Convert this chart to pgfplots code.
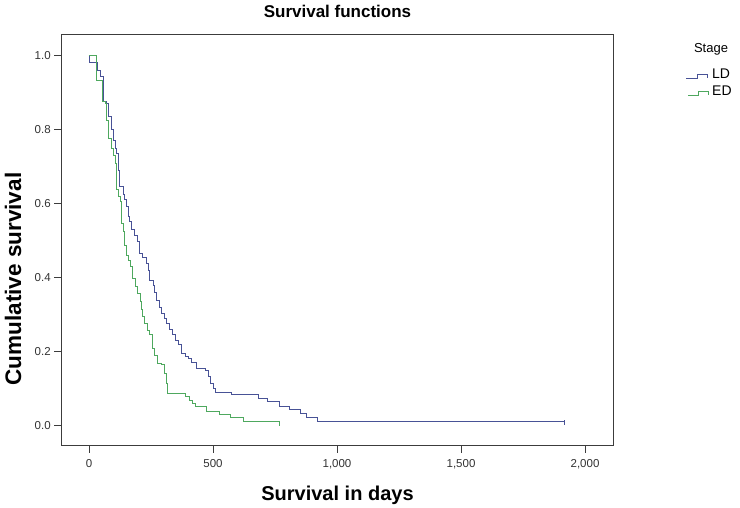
\documentclass[border=0pt]{standalone}
\usepackage{pgfplots}
\pgfplotsset{compat=1.18}
\usepackage{fontspec}
\setmainfont{Liberation Sans}
\definecolor{ldcol}{RGB}{72,82,150}
\definecolor{edcol}{RGB}{78,168,94}
\definecolor{axcol}{RGB}{60,60,60}
\begin{document}
\begin{tikzpicture}[x=1pt,y=1pt]
\path (0,0) rectangle (740,508);
\begin{axis}[
  at={(61.7pt,62.5pt)}, anchor=south west,
  scale only axis, width=551.6pt, height=411.2pt,
  xmin=-110, xmax=2114, ymin=-0.054, ymax=1.058,
  xtick={0,500,1000,1500,2000},
  ytick={0,0.2,0.4,0.6,0.8,1.0},
  tick pos=left, tick align=outside,
  major tick length=7.5pt,
  axis line style={axcol, line width=1pt},
  every tick/.style={axcol, line width=0.8pt},
  tick label style={font=\fontsize{11.5}{13}\selectfont, text=black!80},
  /pgf/number format/assume math mode=true,
  xticklabel style={/pgf/number format/1000 sep={,}, yshift=-3pt},
  yticklabel style={/pgf/number format/.cd, fixed, fixed zerofill, precision=1},
  clip=false,
]
\addplot[const plot, ldcol, line width=1pt] coordinates {
(0,1.0) (2,0.981) (34,0.961) (47,0.943) (58,0.93) (60,0.876) (71,0.871)
(78,0.835) (91,0.80) (98,0.772) (105,0.75) (112,0.736) (118,0.691)
(125,0.646) (140,0.625) (145,0.61) (152,0.592) (158,0.565) (165,0.553)
(172,0.529) (185,0.515) (195,0.497) (203,0.466) (215,0.455) (230,0.439)
(240,0.42) (246,0.393) (259,0.38) (266,0.36) (273,0.339) (283,0.32)
(293,0.303) (305,0.29) (313,0.276) (325,0.26) (337,0.245) (348,0.23)
(360,0.218) (374,0.195) (390,0.188) (400,0.182) (415,0.17) (434,0.155)
(470,0.15) (481,0.132) (488,0.114) (501,0.100) (512,0.089) (575,0.085)
(683,0.0735) (719,0.064) (770,0.051) (808,0.042) (851,0.033) (878,0.022)
(922,0.012) (1916,0.012)
};
\addplot[const plot, edcol, line width=1pt] coordinates {
(0,1.0) (31,0.934) (55,0.876) (65,0.871) (71,0.826) (80,0.775) (91,0.750)
(100,0.73) (105,0.709) (112,0.637) (120,0.62) (128,0.605) (132,0.547)
(138,0.525) (142,0.506) (145,0.488) (152,0.461) (160,0.445) (168,0.429)
(176,0.398) (186,0.375) (195,0.357) (206,0.335) (210,0.315) (216,0.294)
(225,0.275) (235,0.258) (246,0.245) (257,0.209) (265,0.19) (275,0.168)
(293,0.164) (306,0.141) (312,0.115) (316,0.087) (391,0.078) (407,0.069)
(418,0.060) (431,0.051) (472,0.037) (528,0.031) (571,0.022) (622,0.010)
(767,0.010)
};
\addplot[only marks, mark=|, mark size=2.5pt, ldcol, mark options={line width=0.8pt}] coordinates {(1916,0.008)};
\addplot[only marks, mark=|, mark size=2.5pt, edcol, mark options={line width=0.8pt}] coordinates {(767,0.006)};
\end{axis}
\node[font=\bfseries\fontsize{17}{20}\selectfont] at (337.5,497) {Survival functions};
\node[font=\bfseries\fontsize{22.5}{26}\selectfont, rotate=90] at (13,229) {Cumulative survival};
\node[font=\bfseries\fontsize{20}{24}\selectfont] at (337.5,13) {Survival in days};
\node[font=\fontsize{13}{15}\selectfont] at (711,459) {Stage};
\draw[ldcol, line width=1pt] (686,429) -- (697,429) -- (697,433) -- (707,433) -- (707,430);
\node[anchor=west, font=\fontsize{14}{16}\selectfont, inner sep=0pt] at (712,434) {LD};
\draw[edcol, line width=1pt] (688,412) -- (698,412) -- (698,416) -- (708,416) -- (708,413);
\node[anchor=west, font=\fontsize{14}{16}\selectfont, inner sep=0pt] at (712,417) {ED};
\end{tikzpicture}
\end{document}
